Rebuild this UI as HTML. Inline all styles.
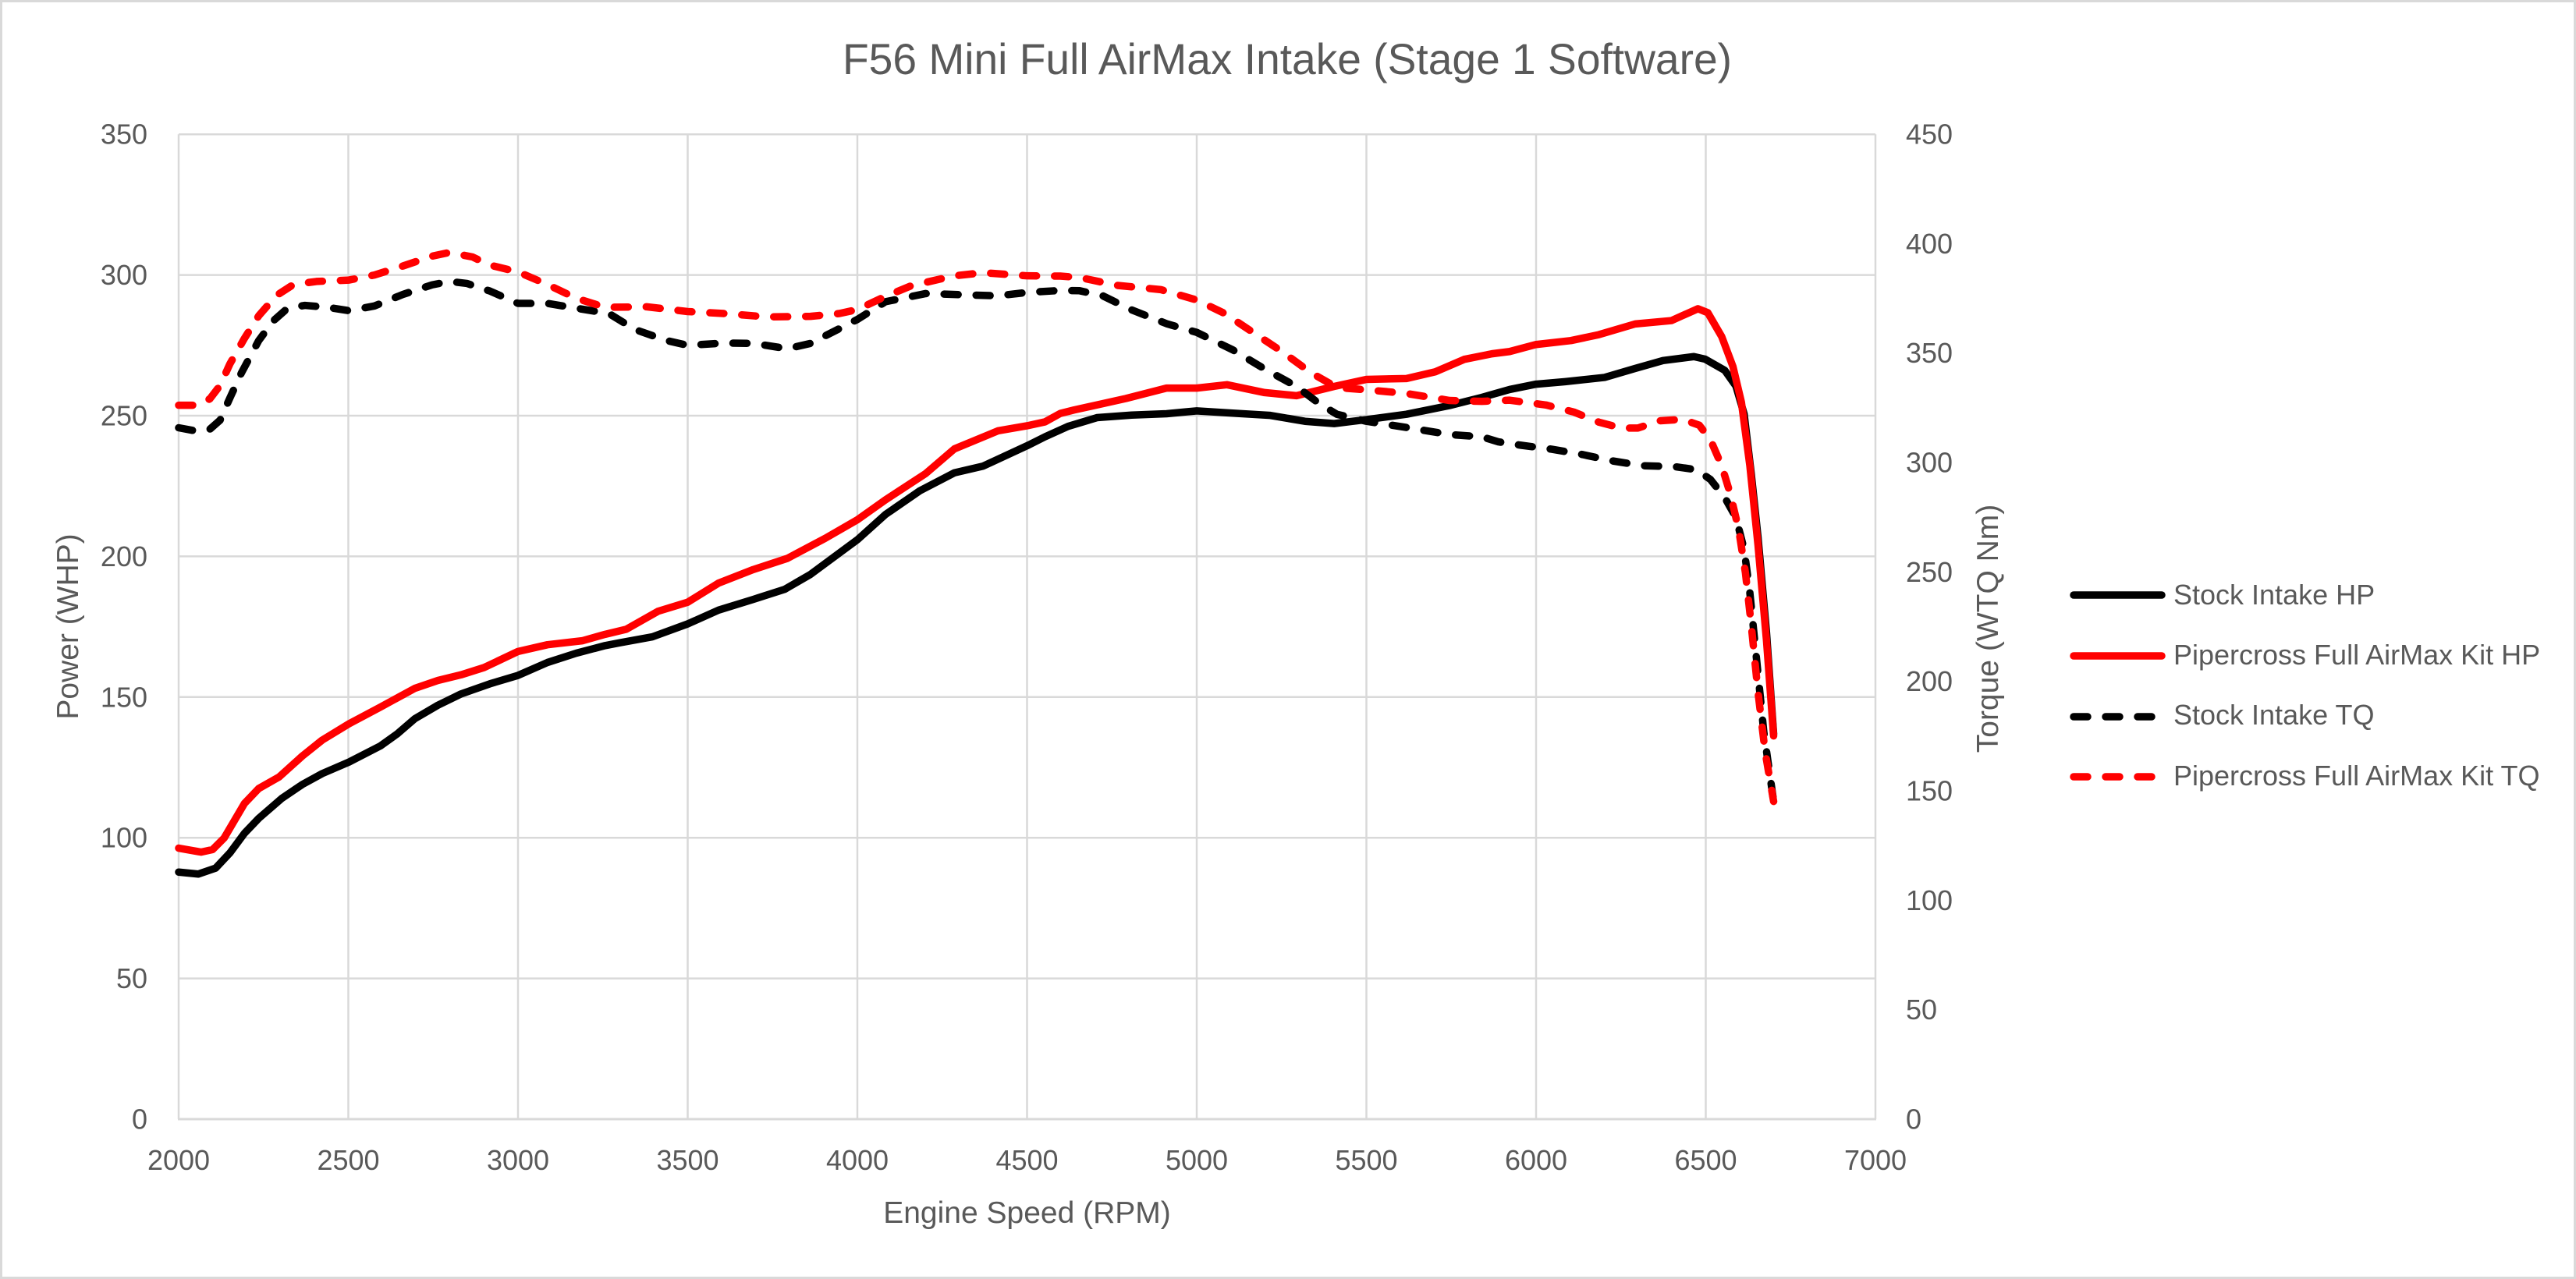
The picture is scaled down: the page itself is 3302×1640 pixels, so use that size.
<!DOCTYPE html>
<html>
<head>
<meta charset="utf-8">
<style>
  html, body { margin: 0; padding: 0; background: #ffffff; }
  svg { display: block; }
  text { font-family: "Liberation Sans", Arial, sans-serif; fill: #595959; }
</style>
</head>
<body>
<svg width="3302" height="1640" viewBox="0 0 3302 1640" xmlns="http://www.w3.org/2000/svg">
  <rect x="0" y="0" width="3302" height="1640" fill="#ffffff"/>
  <rect x="1.5" y="1.5" width="3299" height="1637" fill="none" stroke="#d9d9d9" stroke-width="3"/>

  <!-- Title -->
  <text x="1650" y="95" font-size="56" text-anchor="middle" textLength="1140" lengthAdjust="spacingAndGlyphs">F56 Mini Full AirMax Intake (Stage 1 Software)</text>

  <!-- Horizontal gridlines -->
  <g stroke="#d9d9d9" stroke-width="2.5" fill="none">
    <line x1="229" y1="172.2" x2="2404" y2="172.2"/>
    <line x1="229" y1="352.6" x2="2404" y2="352.6"/>
    <line x1="229" y1="533" x2="2404" y2="533"/>
    <line x1="229" y1="713.4" x2="2404" y2="713.4"/>
    <line x1="229" y1="893.8" x2="2404" y2="893.8"/>
    <line x1="229" y1="1074.2" x2="2404" y2="1074.2"/>
    <line x1="229" y1="1254.6" x2="2404" y2="1254.6"/>
    <!-- Vertical gridlines -->
    <line x1="229" y1="172.2" x2="229" y2="1435"/>
    <line x1="446.5" y1="172.2" x2="446.5" y2="1435"/>
    <line x1="664" y1="172.2" x2="664" y2="1435"/>
    <line x1="881.5" y1="172.2" x2="881.5" y2="1435"/>
    <line x1="1099" y1="172.2" x2="1099" y2="1435"/>
    <line x1="1316.5" y1="172.2" x2="1316.5" y2="1435"/>
    <line x1="1534" y1="172.2" x2="1534" y2="1435"/>
    <line x1="1751.5" y1="172.2" x2="1751.5" y2="1435"/>
    <line x1="1969" y1="172.2" x2="1969" y2="1435"/>
    <line x1="2186.5" y1="172.2" x2="2186.5" y2="1435"/>
    <line x1="2404" y1="172.2" x2="2404" y2="1435"/>
  </g>
  <line x1="228" y1="1435" x2="2405" y2="1435" stroke="#d9d9d9" stroke-width="3"/>

  <!-- Left axis labels -->
  <g font-size="36" text-anchor="end">
    <text x="189" y="1447.5">0</text>
    <text x="189" y="1267">50</text>
    <text x="189" y="1086.7">100</text>
    <text x="189" y="906.3">150</text>
    <text x="189" y="725.9">200</text>
    <text x="189" y="545.5">250</text>
    <text x="189" y="365.1">300</text>
    <text x="189" y="184.7">350</text>
  </g>

  <!-- Right axis labels -->
  <g font-size="36" text-anchor="start">
    <text x="2443" y="1447.5">0</text>
    <text x="2443" y="1307.2">50</text>
    <text x="2443" y="1166.8">100</text>
    <text x="2443" y="1026.5">150</text>
    <text x="2443" y="886.2">200</text>
    <text x="2443" y="745.8">250</text>
    <text x="2443" y="605.5">300</text>
    <text x="2443" y="465.2">350</text>
    <text x="2443" y="324.8">400</text>
    <text x="2443" y="184.5">450</text>
  </g>

  <!-- X axis labels -->
  <g font-size="36" text-anchor="middle">
    <text x="229" y="1500">2000</text>
    <text x="446.5" y="1500">2500</text>
    <text x="664" y="1500">3000</text>
    <text x="881.5" y="1500">3500</text>
    <text x="1099" y="1500">4000</text>
    <text x="1316.5" y="1500">4500</text>
    <text x="1534" y="1500">5000</text>
    <text x="1751.5" y="1500">5500</text>
    <text x="1969" y="1500">6000</text>
    <text x="2186.5" y="1500">6500</text>
    <text x="2404" y="1500">7000</text>
  </g>

  <!-- Axis titles -->
  <text x="1316.5" y="1568" font-size="39" text-anchor="middle">Engine Speed (RPM)</text>
  <text transform="translate(100,803.5) rotate(-90)" font-size="39" text-anchor="middle">Power (WHP)</text>
  <text transform="translate(2561,806) rotate(-90)" font-size="39" text-anchor="middle">Torque (WTQ Nm)</text>

  <!-- Series (data coordinates: x = rpm, y = value on left-axis scale) -->
  <g transform="matrix(0.435 0 0 -3.608 -641 1435)" fill="none" stroke-linejoin="round" stroke-linecap="round">
    <!-- Stock Intake HP -->
    <polyline vector-effect="non-scaling-stroke" stroke="#000000" stroke-width="9.5" points="
      2000,87.8 2058,87.1 2109,89.2 2151,94.6 2194,101.6 2236,106.9 2304,114.0 2364,118.9 2423,122.8 2502,126.9
      2594,132.6 2645,137.0 2696,142.3 2764,147.1 2832,151.1 2917,154.7 3000,157.7 3087,162.3 3172,165.6 3257,168.3
      3300,169.3 3396,171.4 3500,176.0 3591,180.9 3693,184.7 3786,188.3 3862,193.6 4000,205.9 4083,214.9 4184,223.3
      4286,229.7 4371,232.1 4500,239.3 4553,242.5 4621,246.2 4706,249.3 4808,250.2 4911,250.7 5000,251.7 5106,250.9
      5217,250.1 5319,248.0 5405,247.2 5500,248.6 5618,250.5 5745,253.6 5840,256.5 5922,259.3 6000,261.2 6086,262.1
      6202,263.6 6292,266.8 6374,269.6 6465,271.0 6498,270.1 6556,266.1 6589,260.5 6613,250.6 6634,229.4 6654,206.8
      6679,172.9 6700,136.9"/>
    <!-- Pipercross HP -->
    <polyline vector-effect="non-scaling-stroke" stroke="#ff0000" stroke-width="9.5" points="
      2000,96.3 2066,94.9 2100,95.8 2134,99.9 2194,112.2 2236,117.5 2296,121.6 2364,129.0 2423,134.7 2502,140.5
      2594,146.4 2696,153.1 2764,155.9 2832,157.9 2900,160.5 3000,166.2 3087,168.6 3189,170.0 3257,172.3 3319,174.1
      3413,180.5 3500,183.7 3591,190.5 3693,195.3 3794,199.3 3905,206.4 4000,213.0 4083,220.1 4201,229.4 4286,238.2
      4414,244.6 4500,246.4 4553,247.8 4598,250.8 4638,252.0 4791,256.1 4911,259.8 5000,259.8 5089,261.0 5200,258.2
      5294,257.1 5405,260.4 5500,262.9 5618,263.2 5703,265.6 5788,270.0 5870,272.0 5922,272.8 6000,275.3 6103,276.7
      6185,278.8 6292,282.6 6399,283.8 6432,285.6 6477,288.0 6506,286.6 6547,278.1 6580,267.5 6605,254.8 6630,232.2
      6654,204.0 6679,170.1 6700,136.2"/>
    <!-- Stock Intake TQ -->
    <polyline vector-effect="non-scaling-stroke" stroke="#000000" stroke-width="9.5" stroke-dasharray="18 23" points="
      2000,245.7 2054,244.5 2092,245.2 2122,248.4 2151,256.3 2185,265.2 2236,276.7 2279,283.7 2321,288.2 2372,289.2
      2440,288.5 2502,287.3 2577,289.0 2661,293.1 2747,296.5 2798,297.7 2849,297.0 2917,294.3 3000,289.9 3087,289.9
      3172,288.2 3268,286.3 3345,280.6 3438,276.7 3500,275.0 3608,275.8 3693,275.7 3794,273.8 3862,275.7 4000,284.2
      4083,290.5 4201,293.4 4329,292.9 4414,292.6 4500,293.8 4598,294.5 4655,294.4 4723,292.6 4808,287.6 4911,282.7
      5000,279.6 5106,273.4 5200,266.6 5294,260.4 5362,254.2 5413,250.5 5500,248.0 5618,245.8 5745,243.3 5840,242.5
      5889,240.7 5955,239.5 6045,238.1 6136,236.2 6226,233.9 6317,232.2 6407,231.9 6473,230.8 6514,227.3 6556,220.9
      6589,213.8 6613,202.5 6630,187.0 6650,163.0 6671,137.6 6700,112.9"/>
    <!-- Pipercross TQ -->
    <polyline vector-effect="non-scaling-stroke" stroke="#ff0000" stroke-width="9.5" stroke-dasharray="18 23" points="
      2000,253.7 2058,253.7 2092,256.0 2122,260.7 2151,268.4 2194,277.5 2236,285.5 2287,292.6 2338,296.6 2406,297.7
      2502,298.2 2577,300.0 2661,303.2 2747,306.7 2798,308.0 2866,306.4 2917,303.5 3000,301.1 3087,296.6 3172,291.7
      3257,288.5 3379,288.7 3500,287.0 3608,286.3 3735,285.1 3862,285.3 3947,286.3 4000,287.7 4074,291.9 4159,296.2
      4286,299.7 4371,300.8 4500,299.7 4598,299.6 4655,299.1 4766,296.3 4894,294.8 5000,291.1 5081,286.4 5166,279.6
      5251,272.8 5336,265.3 5413,260.0 5500,259.2 5618,257.9 5745,255.4 5840,255.1 5922,255.5 6029,253.8 6111,251.3
      6185,247.7 6251,245.6 6300,245.6 6366,248.2 6432,248.7 6481,246.6 6514,241.4 6547,232.2 6572,222.3 6597,209.6
      6617,194.1 6634,175.7 6654,151.7 6675,130.5 6700,112.9"/>
  </g>

  <!-- Legend -->
  <g fill="none" stroke-width="9.5" stroke-linecap="round">
    <line x1="2658" y1="763" x2="2771" y2="763" stroke="#000000"/>
    <line x1="2658" y1="841" x2="2771" y2="841" stroke="#ff0000"/>
    <line x1="2658" y1="919" x2="2771" y2="919" stroke="#000000" stroke-dasharray="18 23"/>
    <line x1="2658" y1="996" x2="2771" y2="996" stroke="#ff0000" stroke-dasharray="18 23"/>
  </g>
  <g font-size="36" text-anchor="start">
    <text x="2786" y="775">Stock Intake HP</text>
    <text x="2786" y="852">Pipercross Full AirMax Kit HP</text>
    <text x="2786" y="929">Stock Intake TQ</text>
    <text x="2786" y="1007">Pipercross Full AirMax Kit TQ</text>
  </g>
</svg>
</body>
</html>
